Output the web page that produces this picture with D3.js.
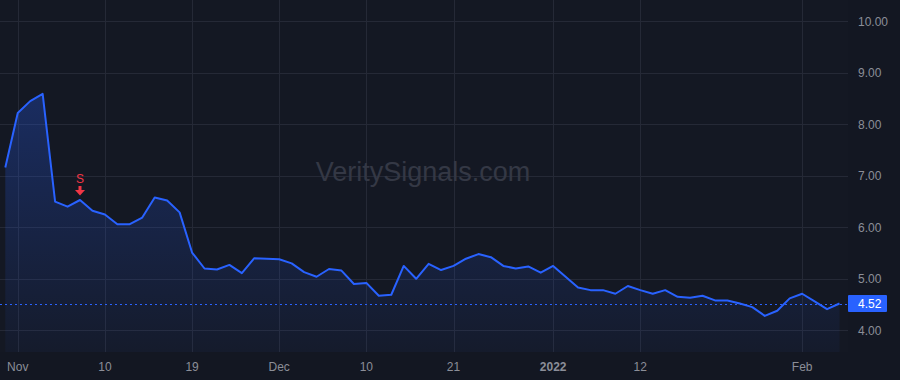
<!DOCTYPE html>
<html>
<head>
<meta charset="utf-8">
<script src="https://cdn.jsdelivr.net/npm/d3@7"></script>
<style>
    html, body { margin: 0; padding: 0; background: #131722; }
    svg { display: block; }
</style>
</head>
<body>
<div id="chart"></div>
<script>
// trading days, Oct 29 2021 - Feb 4 2022
const dates = [
    "2021-10-29",
    "2021-11-01", "2021-11-02", "2021-11-03", "2021-11-04", "2021-11-05",
    "2021-11-08", "2021-11-09", "2021-11-10", "2021-11-11", "2021-11-12",
    "2021-11-15", "2021-11-16", "2021-11-17", "2021-11-18", "2021-11-19",
    "2021-11-22", "2021-11-23", "2021-11-24", "2021-11-26",
    "2021-11-29", "2021-11-30", "2021-12-01", "2021-12-02", "2021-12-03",
    "2021-12-06", "2021-12-07", "2021-12-08", "2021-12-09", "2021-12-10",
    "2021-12-13", "2021-12-14", "2021-12-15", "2021-12-16", "2021-12-17",
    "2021-12-20", "2021-12-21", "2021-12-22", "2021-12-23",
    "2021-12-27", "2021-12-28", "2021-12-29", "2021-12-30", "2021-12-31",
    "2022-01-03", "2022-01-04", "2022-01-05", "2022-01-06", "2022-01-07",
    "2022-01-10", "2022-01-11", "2022-01-12", "2022-01-13", "2022-01-14",
    "2022-01-18", "2022-01-19", "2022-01-20", "2022-01-21",
    "2022-01-24", "2022-01-25", "2022-01-26", "2022-01-27", "2022-01-28",
    "2022-01-31", "2022-02-01", "2022-02-02", "2022-02-03", "2022-02-04"
];

const prices = [
    7.16,
    8.22, 8.45, 8.59, 6.50, 6.40,
    6.53, 6.32, 6.25, 6.06, 6.06,
    6.19, 6.58, 6.52, 6.29, 5.51,
    5.20, 5.18, 5.27, 5.11,
    5.40, 5.39, 5.38, 5.30, 5.13,
    5.04, 5.19, 5.16, 4.90, 4.92,
    4.67, 4.69, 5.25, 5.00, 5.29,
    5.17, 5.25, 5.39, 5.48,
    5.42, 5.25, 5.20, 5.24, 5.12,
    5.25, 5.04, 4.83, 4.78, 4.78,
    4.71, 4.86, 4.78, 4.71, 4.78,
    4.65, 4.63, 4.67, 4.58,
    4.58, 4.52, 4.45, 4.28, 4.38,
    4.62, 4.71, 4.56, 4.41, 4.52
];

const timeTicks = ["2021-11-01", "2021-11-10", "2021-11-19", "2021-12-01", "2021-12-10",
    "2021-12-21", "2022-01-03", "2022-01-12", "2022-02-01"];
const timeTickLabels = ["Nov", "10", "19", "Dec", "10", "21", "2022", "12", "Feb"];
const priceTicks = [4, 5, 6, 7, 8, 9, 10];

const signalDates = ["2021-11-08"];
const signalLabels = ["S"];

const width = 900, height = 380;
const plotRight = 848, plotBottom = 352;

const svg = d3.select("#chart").append("svg")
    .attr("width", width)
    .attr("height", height);

svg.append("rect")
    .attr("width", width)
    .attr("height", height)
    .attr("fill", "#131722");

svg.append("rect")
    .attr("width", plotRight)
    .attr("height", plotBottom)
    .attr("fill", "#141823");

// index based x, trading days only
const x = d3.scaleLinear()
    .domain([0, dates.length - 1])
    .range([5.3, 839.5]);

const y = d3.scaleLinear()
    .domain([4, 10])
    .range([330.3, 21.3]);

const data = dates.map(function (d, i) {
    return {date: d, i: i, value: prices[i]};
});

// grid
svg.append("g")
    .selectAll("line")
    .data(priceTicks)
    .enter()
    .append("line")
    .attr("x1", 0)
    .attr("x2", plotRight)
    .attr("y1", function (d) { return Math.round(y(d)) + 0.5; })
    .attr("y2", function (d) { return Math.round(y(d)) + 0.5; })
    .attr("stroke", "#252936")
    .attr("stroke-width", 1);

svg.append("g")
    .selectAll("line")
    .data(timeTicks)
    .enter()
    .append("line")
    .attr("x1", function (d) { return Math.round(x(dates.indexOf(d))) + 0.5; })
    .attr("x2", function (d) { return Math.round(x(dates.indexOf(d))) + 0.5; })
    .attr("y1", 0)
    .attr("y2", plotBottom)
    .attr("stroke", "#252936")
    .attr("stroke-width", 1);

// watermark
svg.append("text")
    .attr("x", 423)
    .attr("y", 181)
    .attr("text-anchor", "middle")
    .style("font-family", "'Liberation Sans', Arial, sans-serif")
    .style("font-size", "27px")
    .style("fill", "#343845")
    .text("VeritySignals.com");

// area under the line
const defs = svg.append("defs");
const grad = defs.append("linearGradient")
    .attr("id", "areaFill")
    .attr("gradientUnits", "userSpaceOnUse")
    .attr("x1", 0).attr("x2", 0)
    .attr("y1", y(d3.max(prices))).attr("y2", plotBottom);
grad.append("stop").attr("offset", "0%").attr("stop-color", "#2962ff").attr("stop-opacity", 0.28);
grad.append("stop").attr("offset", "100%").attr("stop-color", "#2962ff").attr("stop-opacity", 0.04);

svg.append("path")
    .datum(data)
    .attr("fill", "url(#areaFill)")
    .attr("d", d3.area()
        .x(function (d) { return x(d.i); })
        .y0(plotBottom)
        .y1(function (d) { return y(d.value); }));

// last price dashed line
const last = prices[prices.length - 1];
svg.append("line")
    .attr("x1", 0)
    .attr("x2", plotRight)
    .attr("y1", Math.round(y(last)) + 0.5)
    .attr("y2", Math.round(y(last)) + 0.5)
    .attr("stroke", "#2962ff")
    .attr("stroke-width", 1)
    .attr("stroke-dasharray", "2,3");

svg.append("path")
    .datum(data)
    .attr("fill", "none")
    .attr("stroke", "#2962ff")
    .attr("stroke-width", 2)
    .attr("stroke-linejoin", "round")
    .attr("d", d3.line()
        .x(function (d) { return x(d.i); })
        .y(function (d) { return y(d.value); }));

// sell signal markers
signalDates.forEach(function (s, k) {
    const i = dates.indexOf(s);
    const cx = x(i), cy = y(prices[i]);
    svg.append("text")
        .attr("x", cx)
        .attr("y", cy - 17)
        .attr("text-anchor", "middle")
        .style("font-family", "'Liberation Sans', Arial, sans-serif")
        .style("font-size", "12px")
        .style("fill", "#f23645")
        .text(signalLabels[k]);
    svg.append("path")
        .attr("d", "M" + (cx - 1.5) + "," + (cy - 14) + "h3v4h3.5l-5,5.5l-5,-5.5h3.5z")
        .attr("fill", "#f23645");
});

// price scale
svg.append("g")
    .selectAll("text")
    .data(priceTicks)
    .enter()
    .append("text")
    .attr("x", 858)
    .attr("y", function (d) { return y(d); })
    .attr("dy", "0.35em")
    .style("font-family", "'Liberation Sans', Arial, sans-serif")
    .style("font-size", "12px")
    .style("fill", "#8b8e98")
    .text(function (d) { return d3.format(".2f")(d); });

// time scale
svg.append("g")
    .selectAll("text")
    .data(timeTicks)
    .enter()
    .append("text")
    .attr("x", function (d) { return x(dates.indexOf(d)); })
    .attr("y", 367)
    .attr("dy", "0.35em")
    .attr("text-anchor", "middle")
    .style("font-family", "'Liberation Sans', Arial, sans-serif")
    .style("font-size", "12px")
    .style("font-weight", function (d, i) { return timeTickLabels[i] === "2022" ? "bold" : "normal"; })
    .style("fill", "#8b8e98")
    .text(function (d, i) { return timeTickLabels[i]; });

// last price label
svg.append("rect")
    .attr("x", plotRight)
    .attr("y", y(last) - 8.5)
    .attr("width", 39)
    .attr("height", 17)
    .attr("rx", 1)
    .attr("fill", "#2962ff");
svg.append("text")
    .attr("x", 858)
    .attr("y", y(last))
    .attr("dy", "0.35em")
    .style("font-family", "'Liberation Sans', Arial, sans-serif")
    .style("font-size", "12px")
    .style("fill", "#ffffff")
    .text(d3.format(".2f")(last));
</script>
</body>
</html>
